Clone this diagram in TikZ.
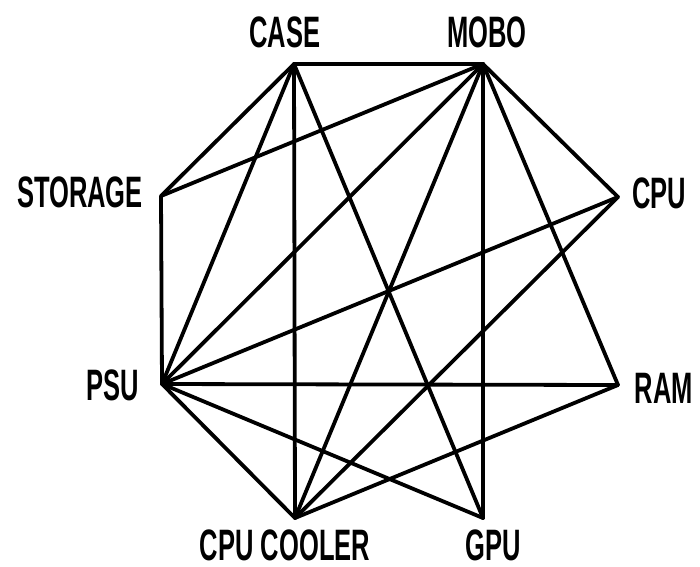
\documentclass[tikz,border=0pt]{standalone}
\usepackage{fontspec}
\setmainfont{Liberation Sans}[FakeStretch=0.58]
\begin{document}
\begin{tikzpicture}[x=1pt,y=-1pt,
  edge/.style={line width=3.8pt, line cap=round, line join=round},
  lbl/.style={font=\bfseries\fontsize{44}{44}\selectfont, inner sep=0pt, anchor=center}]
\useasboundingbox (0,0) rectangle (700,566);
% vertices
\coordinate (case) at (294,64);
\coordinate (mobo) at (483,64);
\coordinate (storage) at (161,196);
\coordinate (cpu) at (618,197);
\coordinate (psu) at (162,384);
\coordinate (ram) at (618,385);
\coordinate (cooler) at (295,518);
\coordinate (gpu) at (483,518);
% labels
\node[lbl] (lcase) at (285,32) {CASE};
\node[lbl] (lmobo) at (487,32) {MOBO};
\node[lbl] (lstorage) at (80,192) {STORAGE};
\node[lbl] (lcpu) at (659,193) {CPU};
\node[lbl] (lpsu) at (113,385) {PSU};
\node[lbl] (lram) at (664,388) {RAM};
\node[lbl] (lcooler) at (285,545) {CPU COOLER};
\node[lbl] (lgpu) at (493,545) {GPU};
% edges
\draw[edge] (case) -- (mobo);
\draw[edge] (case) -- (storage);
\draw[edge] (case) -- (psu);
\draw[edge] (case) -- (cooler);
\draw[edge] (case) -- (gpu);
\draw[edge] (mobo) -- (storage);
\draw[edge] (mobo) -- (psu);
\draw[edge] (mobo) -- (cooler);
\draw[edge] (mobo) -- (gpu);
\draw[edge] (mobo) -- (ram);
\draw[edge] (mobo) -- (cpu);
\draw[edge] (storage) -- (psu);
\draw[edge] (psu) -- (cpu);
\draw[edge] (psu) -- (ram);
\draw[edge] (psu) -- (cooler);
\draw[edge] (psu) -- (gpu);
\draw[edge] (cooler) -- (cpu);
\draw[edge] (cooler) -- (ram);
\end{tikzpicture}
\end{document}
